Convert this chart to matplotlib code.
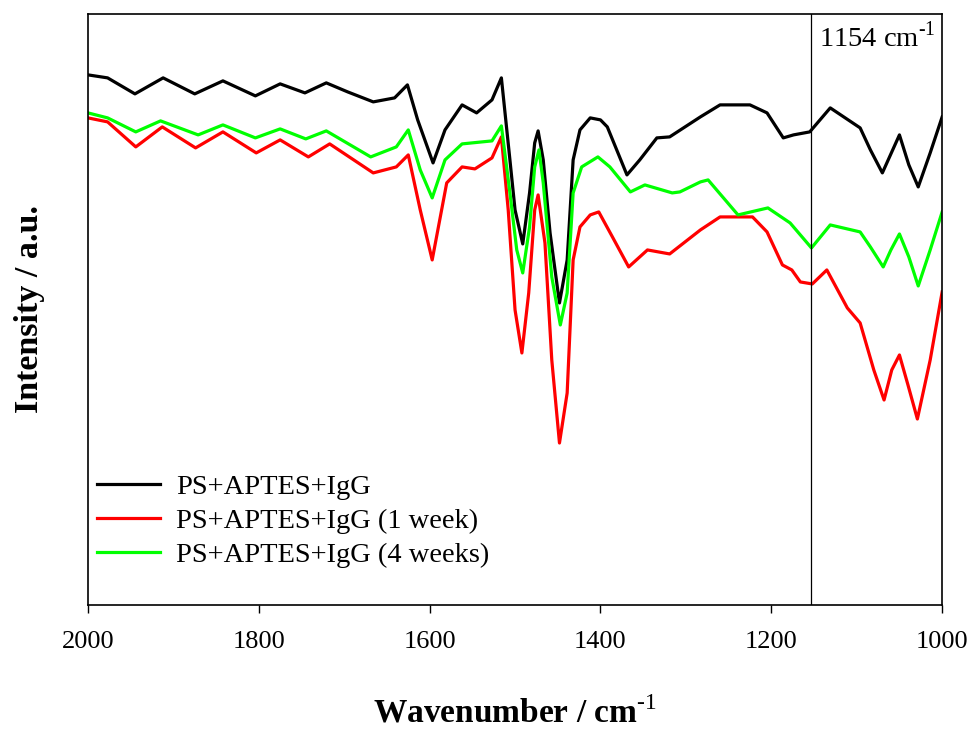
import numpy as np
import matplotlib
matplotlib.use('Agg')
import matplotlib.pyplot as plt

from matplotlib.ticker import MultipleLocator

# Spectrum data, wavenumber [cm^-1] vs. intensity [a.u.]
wn_black = [2000, 1977, 1945, 1912, 1875, 1842, 1804, 1775, 1746, 1721, 1696, 1666,
            1641, 1626, 1614, 1596, 1582, 1574, 1562, 1545, 1527, 1516, 1506, 1500,
            1491, 1483, 1477, 1473, 1467, 1459, 1448, 1439, 1432, 1424, 1412, 1400,
            1392, 1369, 1354, 1334, 1319, 1283, 1260, 1225, 1205, 1186, 1174, 1155,
            1131, 1096, 1084, 1070, 1060, 1050, 1039, 1028, 1014, 1000]
int_black = [53.0, 52.7, 51.1, 52.7, 51.1, 52.4, 50.9, 52.1, 51.2, 52.2, 51.3, 50.3,
             50.7, 52.0, 48.5, 44.2, 47.5, 48.5, 50.0, 49.2, 50.5, 52.7, 44.5, 39.5,
             36.1, 41.2, 46.2, 47.4, 44.5, 37.2, 30.2, 34.5, 44.5, 47.5, 48.7, 48.5,
             47.8, 43.0, 44.5, 46.7, 46.8, 48.8, 50.0, 50.0, 49.2, 46.7, 47.0, 47.3,
             49.7, 47.7, 45.5, 43.2, 45.1, 47.0, 44.0, 41.8, 45.2, 48.8]

wn_red = [2000, 1977, 1944, 1913, 1874, 1842, 1803, 1775, 1742, 1717, 1666, 1639,
          1625, 1611, 1597, 1580, 1562, 1547, 1527, 1516, 1508, 1500, 1492, 1484,
          1477, 1473, 1465, 1457, 1448, 1439, 1432, 1424, 1412, 1402, 1386, 1367,
          1345, 1319, 1283, 1260, 1222, 1205, 1187, 1176, 1166, 1152, 1135, 1111,
          1096, 1080, 1068, 1059, 1050, 1040, 1029, 1014, 1000]
int_red = [48.7, 48.3, 45.8, 47.8, 45.7, 47.3, 45.2, 46.5, 44.8, 46.1, 43.2, 43.8,
           45.0, 39.5, 34.5, 42.2, 43.8, 43.6, 44.7, 46.8, 39.5, 29.5, 25.2, 31.2,
           39.5, 41.0, 36.2, 24.5, 16.2, 21.2, 34.5, 37.8, 39.0, 39.3, 36.8, 33.8,
           35.5, 35.1, 37.5, 38.8, 38.8, 37.3, 34.0, 33.5, 32.3, 32.1, 33.5, 29.7,
           28.2, 23.5, 20.5, 23.5, 25.0, 22.0, 18.6, 24.5, 31.3]

wn_green = [2000, 1977, 1944, 1915, 1871, 1842, 1804, 1775, 1745, 1721, 1669, 1639,
            1625, 1611, 1597, 1582, 1562, 1527, 1516, 1506, 1498, 1491, 1483, 1477,
            1472, 1467, 1457, 1447, 1439, 1432, 1422, 1403, 1389, 1365, 1348, 1316,
            1307, 1283, 1274, 1239, 1204, 1178, 1153, 1131, 1096, 1084, 1069, 1060,
            1050, 1039, 1028, 1014, 1000]
int_green = [49.2, 48.7, 47.3, 48.4, 47.0, 48.0, 46.7, 47.6, 46.6, 47.4, 44.8, 45.8,
             47.5, 43.5, 40.7, 44.5, 46.1, 46.4, 47.9, 41.2, 35.5, 33.2, 37.8, 43.8,
             45.5, 42.2, 32.8, 28.0, 31.2, 41.2, 43.8, 44.8, 43.8, 41.3, 42.0, 41.2,
             41.3, 42.3, 42.5, 39.0, 39.7, 38.2, 35.7, 38.0, 37.3, 35.8, 33.8, 35.5,
             37.1, 34.8, 31.9, 35.5, 39.3]

labels = ['PS+APTES+IgG', 'PS+APTES+IgG (1 week)', 'PS+APTES+IgG (4 weeks)']
colors = ['black', '#ff0000', '#00ff00']
marker_wn = 1154


def main():
    plt.rcParams['font.family'] = ['Liberation Serif', 'DejaVu Serif']
    plt.rcParams['mathtext.fontset'] = 'custom'
    plt.rcParams['mathtext.rm'] = 'Liberation Serif'
    plt.rcParams['mathtext.bf'] = 'Liberation Serif:bold'

    plot_spectra()


def plot_spectra():
    # Create figure
    fig = plt.figure(figsize=(9.74, 7.29), dpi=100)
    ax = fig.add_axes([0.0903, 0.170, 0.877, 0.811])

    # Plot
    for wn, inten, l, c in zip((wn_black, wn_red, wn_green),
                               (int_black, int_red, int_green), labels, colors):
        ax.plot(wn, inten, color=c, lw=2.3, label=l)

    ax.axvline(marker_wn, color='black', lw=0.9)
    ax.text(1144, 58.3, r'1154 cm$^{\text{-1}}$', fontsize=20.5, va='top', ha='left')

    ax.legend(loc='upper left', bbox_to_anchor=(0.011, 0.222), frameon=False,
              fontsize=20.5, handlelength=2.2, handletextpad=0.55, borderpad=0,
              borderaxespad=0, labelspacing=0.29)

    # Y axis
    ax.set_ylim(0, 59.1)
    ax.set_yticks([])
    ax.set_ylabel('Intensity / a.u.', fontsize=24.5, fontweight='bold', labelpad=31)

    # X axis
    ax.set_xlim(2000, 1000)
    ax.xaxis.set_major_locator(MultipleLocator(200))
    ax.tick_params(axis='x', direction='out', length=6, width=1, pad=13, labelsize=19)
    ax.set_xlabel(r'Wavenumber / cm$^{\mathbf{\text{-1}}}$', fontsize=24,
                  fontweight='bold', labelpad=31)

    for s in ax.spines.values():
        s.set_linewidth(1.2)

    fig.savefig('out.png', dpi=100)


if __name__ == '__main__':
    main()
